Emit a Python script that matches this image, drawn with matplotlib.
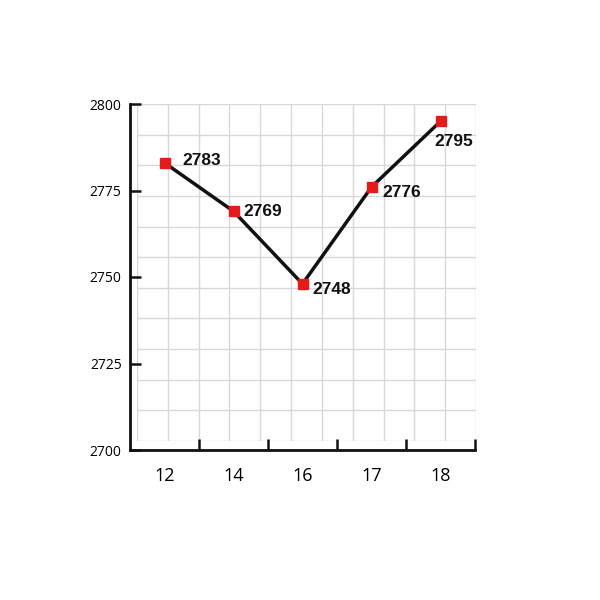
import numpy as np
import matplotlib
matplotlib.use("Agg")
import matplotlib.pyplot as plt

# === data ===
categories = ["12", "14", "16", "17", "18"]
values = [2783, 2769, 2748, 2776, 2795]
y_ticks = [2700, 2725, 2750, 2775, 2800]
# label offsets (pixels) relative to each point
label_dx = [18, 10, 10, 11, -6]
label_dy = [2, 0, -6, -5, -20]

fig = plt.figure(figsize=(6, 6), dpi=100)
ax = fig.add_axes([130 / 600, 1 - 450 / 600, 345 / 600, 346 / 600])

# decorative background grid (independent of data ticks)
grid_ax = fig.add_axes([137 / 600, 1 - 441 / 600, 339 / 600, 337 / 600], zorder=-1)
for gx in np.linspace(0, 1, 12):
    grid_ax.axvline(gx, color="#d8d8d8", lw=1.0)
for gy in np.linspace(0, 1, 12):
    grid_ax.axhline(gy, color="#d8d8d8", lw=1.0)
grid_ax.set_xlim(0, 1)
grid_ax.set_ylim(0, 1)
grid_ax.axis("off")
ax.patch.set_alpha(0)

x = np.arange(len(categories)) + 0.5
ax.plot(x, values, color="#111111", lw=2.5, zorder=3)
ax.plot(x, values, ls="none", marker="s", ms=7.5, color="#e31b1b", zorder=4)

for xi, v, dx, dy in zip(x, values, label_dx, label_dy):
    ax.annotate(str(v), (xi, v), xytext=(dx, dy), textcoords="offset pixels",
                ha="left", va="center", fontsize=12.5, fontweight="bold",
                family="Liberation Sans", color="#111111", zorder=5)

ax.set_xlim(0, len(categories))
ax.set_ylim(2700, 2800)

# major x ticks: boundaries, no labels; minor: category labels, no marks
ax.set_xticks(np.arange(1, len(categories) + 1))
ax.set_xticklabels([])
ax.set_xticks(x, minor=True)
ax.set_xticklabels(categories, minor=True, fontsize=13, family="Open Sans")
ax.tick_params(axis="x", which="major", direction="in", length=8, width=1.8, color="#111111")
ax.tick_params(axis="x", which="minor", length=0, pad=12)

ax.set_yticks(y_ticks)
ax.set_yticklabels([str(t) for t in y_ticks], fontsize=10, family="Open Sans")
ax.tick_params(axis="y", direction="in", length=8, width=1.8, color="#111111", pad=6)

for s in ["top", "right"]:
    ax.spines[s].set_visible(False)
for s in ["left", "bottom"]:
    ax.spines[s].set_linewidth(2.0)
    ax.spines[s].set_color("#111111")

fig.savefig("out.png", dpi=100)
